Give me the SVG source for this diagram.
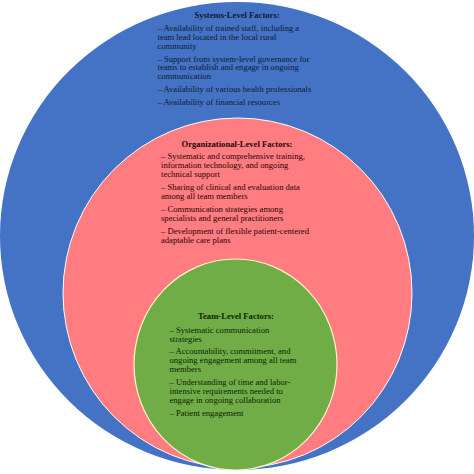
<svg xmlns="http://www.w3.org/2000/svg" width="474" height="474" viewBox="0 0 474 474">
<style>
text{font-family:"Liberation Serif","Times New Roman",serif;font-size:8.6px}
.t{font-weight:bold;text-anchor:middle}
.sys text{fill:#101a33}
.org text{fill:#2a0505}
.team text{fill:#0e2405}
</style>
<rect width="474" height="474" fill="#ffffff"/>
<g id="systems" class="sys">
<ellipse cx="237" cy="236" rx="237" ry="234" fill="#4472C4"/>
<text class="t" x="237" y="18">Systems-Level Factors:</text>
<text x="157.5" y="30.5">– Availability of trained staff, including a</text>
<text x="157.5" y="39.5">team lead located in the local rural</text>
<text x="157.5" y="48.5">community</text>
<text x="157.5" y="61.5">– Support from system-level governance for</text>
<text x="157.5" y="70">teams to establish and engage in ongoing</text>
<text x="157.5" y="79">communication</text>
<text x="157.5" y="92">– Availability of various health professionals</text>
<text x="157.5" y="105">– Availability of financial resources</text>
</g>
<g id="organizational" class="org">
<ellipse cx="237.5" cy="293" rx="174.5" ry="175" fill="#FF7C80" stroke="#ffffff" stroke-width="1"/>
<text class="t" x="237" y="147">Organizational-Level Factors:</text>
<text x="161" y="159">– Systematic and comprehensive training,</text>
<text x="161" y="168">information technology, and ongoing</text>
<text x="161" y="177">technical support</text>
<text x="161" y="190">– Sharing of clinical and evaluation data</text>
<text x="161" y="199">among all team members</text>
<text x="161" y="212">– Communication strategies among</text>
<text x="161" y="221">specialists and general practitioners</text>
<text x="161" y="233.5">– Development of flexible patient-centered</text>
<text x="161" y="242.5">adaptable care plans</text>
</g>
<g id="team" class="team">
<ellipse cx="235.5" cy="364.5" rx="101.5" ry="105.5" fill="#70AD47" stroke="#FFF2CC" stroke-width="1.2"/>
<text class="t" x="236" y="319">Team-Level Factors:</text>
<text x="169.5" y="332.5">– Systematic communication</text>
<text x="169.5" y="341.5">strategies</text>
<text x="169.5" y="354">– Accountability, commitment, and</text>
<text x="169.5" y="363">ongoing engagement among all team</text>
<text x="169.5" y="372">members</text>
<text x="169.5" y="385">– Understanding of time and labor-</text>
<text x="169.5" y="393.5">intensive requirements needed to</text>
<text x="169.5" y="402.5">engage in ongoing collaboration</text>
<text x="169.5" y="415.5">– Patient engagement</text>
</g>
<g id="connectors"/>
</svg>
